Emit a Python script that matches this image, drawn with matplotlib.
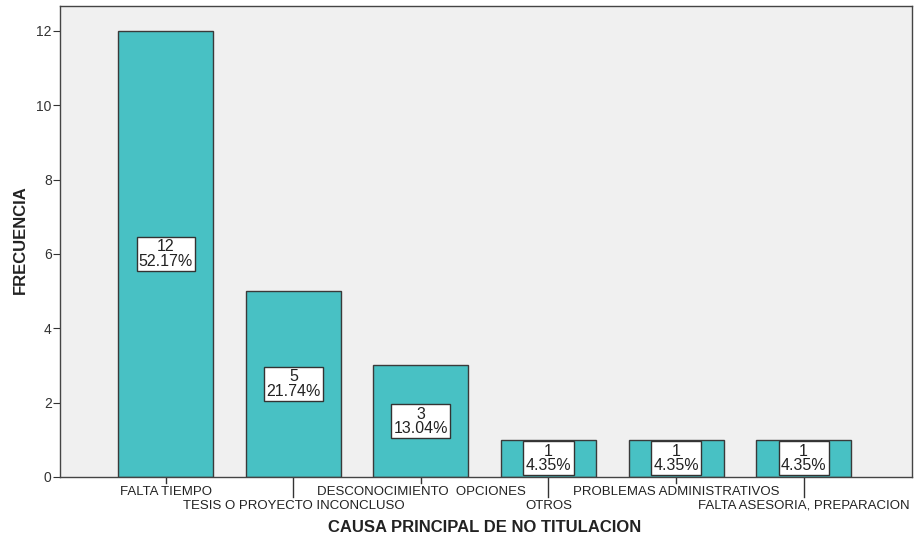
import matplotlib
matplotlib.use("Agg")
import matplotlib.pyplot as plt
from matplotlib import font_manager

categories = ["FALTA TIEMPO", "TESIS O PROYECTO INCONCLUSO", "DESCONOCIMIENTO  OPCIONES",
              "OTROS", "PROBLEMAS ADMINISTRATIVOS", "FALTA ASESORIA, PREPARACION"]
counts = [12, 5, 3, 1, 1, 1]
percents = ["52.17%", "21.74%", "13.04%", "4.35%", "4.35%", "4.35%"]
yticks = [0, 2, 4, 6, 8, 10, 12]

names = {f.name for f in font_manager.fontManager.ttflist}
narrow = "Liberation Sans Narrow" if "Liberation Sans Narrow" in names else "Liberation Sans"
plt.rcParams['font.family'] = ['Liberation Sans', 'DejaVu Sans']

fig = plt.figure(figsize=(9.14, 5.4), dpi=100)
ax = fig.add_axes([60/914, 1-477/540, (912-60)/914, (477-6)/540])
ax.set_facecolor('#F0F0F0')

x = list(range(len(categories)))
ax.bar(x, counts, width=0.745, color='#48C1C4', edgecolor='#3a3a3a', linewidth=1.0, zorder=2)

for xi, c, p in zip(x, counts, percents):
    ax.text(xi, c/2, f"{c}\n{p}", ha='center', va='center', fontsize=11.5, color='#222222',
            linespacing=0.95, zorder=3,
            bbox=dict(boxstyle='square,pad=0.14', facecolor='white', edgecolor='#333333', linewidth=1.0))

ax.set_xlim(-0.83, 5.85)
ax.set_ylim(0, 12.67)
ax.set_yticks(yticks)
ax.set_yticklabels([str(v) for v in yticks], fontsize=10, color='#333333')
ax.tick_params(axis='y', length=5, color='#333333', pad=1)

ax.set_xticks(x)
ax.set_xticklabels([])
ax.tick_params(axis='x', length=0)
for xi, cat in zip(x, categories):
    lower = xi % 2 == 1
    ax.plot([xi, xi], [0, -0.54 if lower else -0.17], color='#333333', lw=1.0, clip_on=False, zorder=1)
    ax.text(xi, -0.25 if not lower else -0.61, cat, ha='center', va='top', fontsize=9.5,
            family=[narrow, 'DejaVu Sans'], color='#222222', clip_on=False)

for s in ax.spines.values():
    s.set_color('#444444')
    s.set_linewidth(1.0)

fig.text(20/914, 1-240/540, "FRECUENCIA", rotation=90, ha='center', va='center',
         fontsize=12, fontweight='bold', color='#222222')
fig.text(485/914, 1-527/540, "CAUSA PRINCIPAL DE NO TITULACION", ha='center', va='center',
         fontsize=12, fontweight='bold', color='#222222')

fig.savefig("out.png", dpi=100)
